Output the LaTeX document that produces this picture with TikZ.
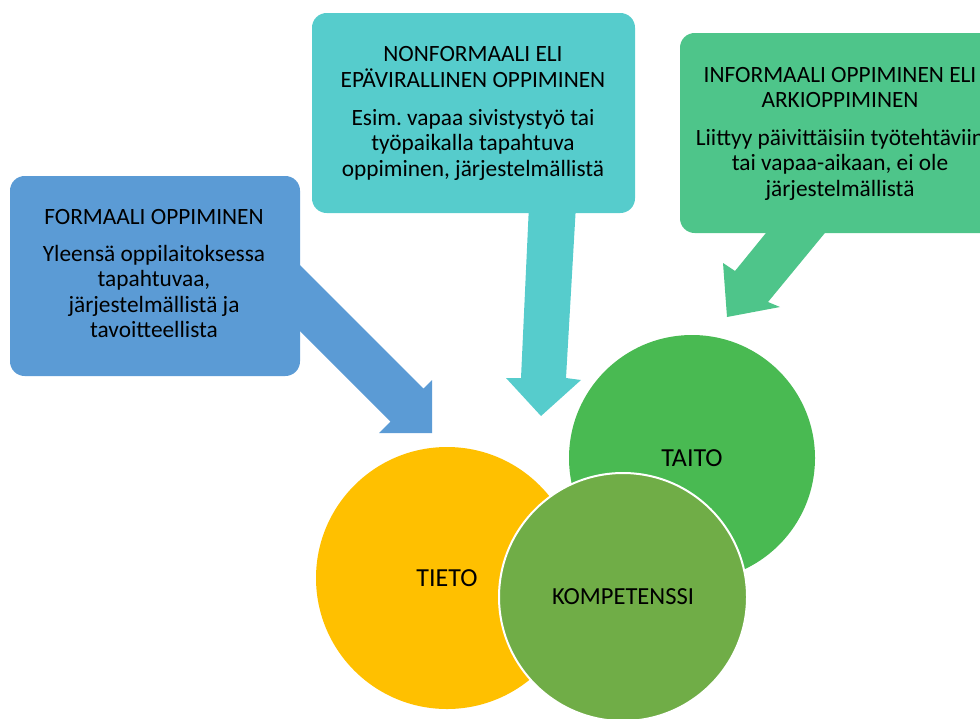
\documentclass[tikz,border=0pt]{standalone}
\usepackage{fontspec}
\setmainfont{Carlito}
\frenchspacing
\definecolor{formblue}{HTML}{5B9BD5}
\definecolor{nonteal}{HTML}{56CCCC}
\definecolor{infgreen}{HTML}{4EC58A}
\definecolor{taitogreen}{HTML}{49BA52}
\definecolor{kompgreen}{HTML}{70AD47}
\definecolor{tietoyellow}{HTML}{FFC000}
\begin{document}
\begin{tikzpicture}[x=0.75pt,y=-0.75pt,
  panel/.style={rectangle, rounded corners=11pt, inner sep=0pt},
  txt/.style={anchor=base, inner sep=0pt, font=\fontsize{17.5}{21}\selectfont, text=black},
  ball/.style={circle, inner sep=0pt, font=\fontsize{19.5}{23}\selectfont, text=black}]
\useasboundingbox (0,0) rectangle (980,718);
\clip (0,0) rectangle (980,718);

% block arrows, drawn first so the panels cover their tails
\fill[formblue] (298,263) -- (423.5,388.5) -- (432,380) -- (432,433)
  -- (379,433) -- (390.5,421.5) -- (298,329) -- cycle;
\fill[nonteal] (529,205) -- (576,205) -- (566,378) -- (581,380) -- (541,416)
  -- (506,378) -- (521,378) -- cycle;
\fill[infgreen] (770,228) -- (829,228) -- (768,302) -- (780,307) -- (727,317)
  -- (723,263) -- (735,271) -- cycle;

% panels
\node[panel, fill=formblue, minimum width=217.5pt, minimum height=150pt] (formal) at (155,276) {};
\node[panel, fill=nonteal, minimum width=242.25pt, minimum height=150pt] (nonformal) at (473.5,113) {};
\node[panel, fill=infgreen, minimum width=240pt, minimum height=150pt] (informal) at (840,133) {};

% panel texts, one line at a time
\foreach \t [count=\i] in {FORMAALI OPPIMINEN}
  \node[txt] (formal-h\i) at (154,224) {\t};
\foreach \t [count=\i] in {Yleensä oppilaitoksessa, {tapahtuvaa,}, järjestelmällistä ja, tavoitteellista}
  \node[txt] (formal-b\i) at (154,{261+25.5*(\i-1)}) {\t};

\foreach \t [count=\i] in {NONFORMAALI ELI, EPÄVIRALLINEN OPPIMINEN}
  \node[txt] (nonformal-h\i) at (473,{61+26*(\i-1)}) {\t};
\foreach \t [count=\i] in {Esim. vapaa sivistystyö tai, työpaikalla tapahtuva, {oppiminen, järjestelmällistä}}
  \node[txt] (nonformal-b\i) at (473,{125+25.5*(\i-1)}) {\t};

\foreach \t [count=\i] in {INFORMAALI OPPIMINEN ELI, ARKIOPPIMINEN}
  \node[txt] (informal-h\i) at (840,{82+25*(\i-1)}) {\t};
\foreach \t [count=\i] in {Liittyy päivittäisiin työtehtäviin, {tai vapaa-aikaan, ei ole}, järjestelmällistä}
  \node[txt] (informal-b\i) at (840,{145+25.5*(\i-1)}) {\t};

% circles
\node[ball, fill=tietoyellow, minimum size=196.5pt] (tieto) at (447,578) {TIETO};
\node[ball, fill=taitogreen, minimum size=184.5pt] (taito) at (692,458) {TAITO};
\node[ball, fill=kompgreen, draw=white, line width=1.5pt, minimum size=186pt,
  font=\fontsize{18.4}{22}\selectfont] (kompetenssi) at (623,597) {KOMPETENSSI};
\end{tikzpicture}
\end{document}
